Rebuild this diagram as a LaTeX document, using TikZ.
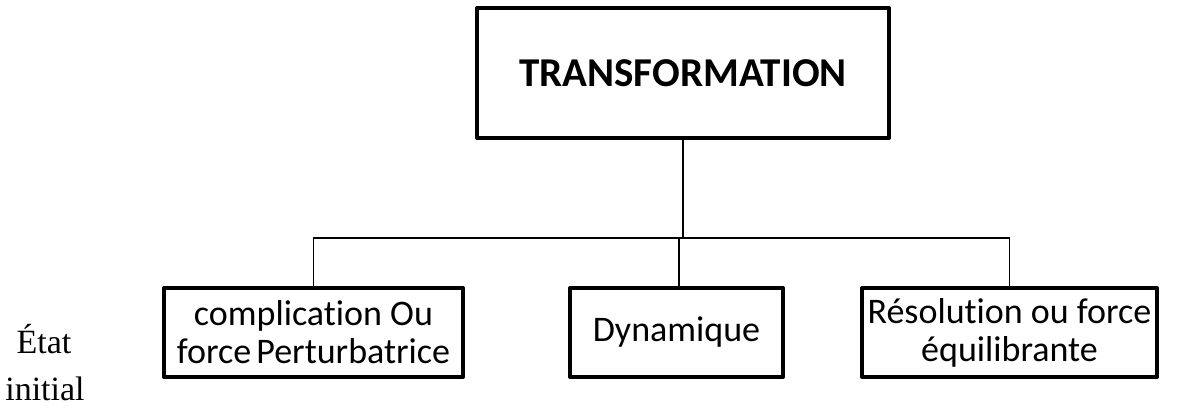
\documentclass[tikz,border=0pt]{standalone}
\usepackage{fontspec}
\setmainfont[Ligatures={NoCommon}]{Carlito}
\newfontfamily\serifet{Liberation Serif}
\begin{document}
\begin{tikzpicture}[x=1pt,y=1pt,
  boxstyle/.style={draw=black,line width=4pt,line join=round,inner sep=0pt,align=center,fill=white},
  conn/.style={draw=black,line width=1.6pt},
  lowtxt/.style={font=\fontsize{36}{38}\selectfont},
  sidetxt/.style={font=\serifet\fontsize{34}{36}\selectfont,anchor=base,inner sep=0pt}]
\useasboundingbox (0,0) rectangle (1191,-407);
\node[boxstyle,minimum width=412pt,minimum height=130pt,font=\fontsize{41}{44}\selectfont\bfseries] (top) at (683,-73) {TRANSFORMATION};
\node[boxstyle,lowtxt,minimum width=299pt,minimum height=89pt] (b1) at (313.5,-332.5) {complication Ou\\force\hspace{5pt}Perturbatrice};
\node[boxstyle,lowtxt,minimum width=213pt,minimum height=89pt] (b2) at (676.5,-332.5) {Dynamique};
\node[boxstyle,lowtxt,minimum width=295pt,minimum height=89pt] (b3) at (1009.5,-332.5) {Résolution ou force\\équilibrante};
\coordinate (j) at (683,-238);
\coordinate (jm) at (679,-238);
\coordinate (dm) at (679,-288);
\draw[conn] (top.south) -- (j);
\draw[conn] (b1.north) |- (j) -| (b3.north);
\draw[conn] (jm) -- (dm);
\node[sidetxt] (etat) at (44,-353) {État};
\node[sidetxt] (init) at (45,-400) {initial};
\end{tikzpicture}
\end{document}
